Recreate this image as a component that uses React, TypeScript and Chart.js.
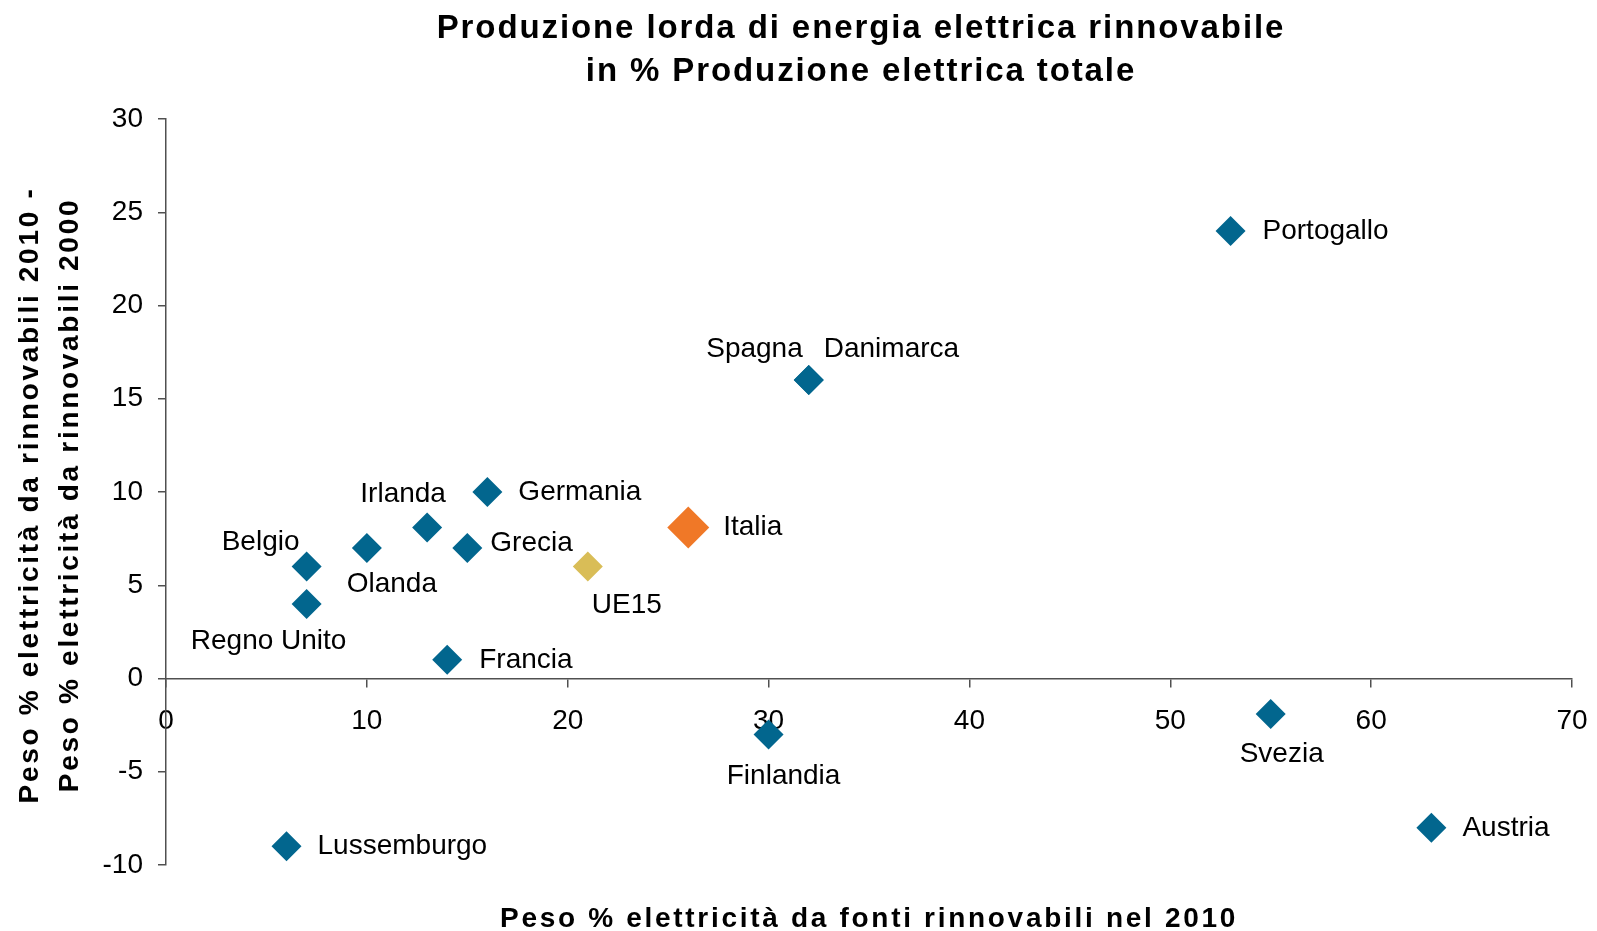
import { useEffect, useRef } from "react";
import { Chart, registerables } from "chart.js";

Chart.register(...registerables);

// ---- Data ----
const countries = [
  "Portogallo", "Spagna", "Danimarca", "Germania", "Irlanda", "Grecia", "Olanda", "Belgio",
  "Regno Unito", "Francia", "UE15", "Italia", "Finlandia", "Svezia", "Austria", "Lussemburgo",
];
const share2010 = [53, 32, 32, 16, 13, 15, 10, 7, 7, 14, 21, 26, 30, 55, 63, 6];
const change2000to2010 = [24, 16, 16, 10, 8.1, 7, 7, 6, 4, 1, 6, 8.1, -3, -1.9, -8, -9];

const xTickValues = [0, 10, 20, 30, 40, 50, 60, 70];
const yTickValues = [-10, -5, 0, 5, 10, 15, 20, 25, 30];

const titleLines = ["Produzione lorda di energia elettrica rinnovabile", "in % Produzione elettrica totale"];
const xAxisTitle = "Peso % elettricità da fonti rinnovabili nel 2010";
const yAxisTitleLines = [
  "Peso % elettricità da rinnovabili 2010 -",
  "Peso % elettricità da rinnovabili 2000",
];

// ---- Styles ----
const COLOR_COUNTRY = "#02668E";
const COLOR_ITALIA = "#F07827";
const COLOR_UE = "#D9BD57";
const AXIS_COLOR = "#505050";
const FONT = '"Liberation Sans", Arial, Helvetica, sans-serif';

// label placement relative to each point: [dx, dy, align]
const labelPlacement: [number, number, CanvasTextAlign][] = [
  [32, 0, "left"],     // Portogallo
  [-6, -31, "right"],  // Spagna
  [15, -31, "left"],   // Danimarca
  [31, 0, "left"],     // Germania
  [-24, -33, "center"],// Irlanda
  [23, -5, "left"],    // Grecia
  [25, 36, "center"],  // Olanda
  [-46, -24, "center"],// Belgio
  [-38, 37, "center"], // Regno Unito
  [32, 0, "left"],     // Francia
  [39, 39, "center"],  // UE15
  [35, 0, "left"],     // Italia
  [15, 42, "center"],  // Finlandia
  [11, 40, "center"],  // Svezia
  [31, 1, "left"],     // Austria
  [31, 0, "left"],     // Lussemburgo
];

const colorFor = (name: string) =>
  name === "Italia" ? COLOR_ITALIA : name === "UE15" ? COLOR_UE : COLOR_COUNTRY;
const radiusFor = (name: string) => (name === "Italia" ? 21 : 15);

const textPlugin = {
  id: "customTexts",
  afterDatasetsDraw(chart: any) {
    const ctx: CanvasRenderingContext2D = chart.ctx;
    const meta = chart.getDatasetMeta(0);
    ctx.save();
    ctx.fillStyle = "#000";
    ctx.font = `28px ${FONT}`;
    ctx.textBaseline = "middle";
    (ctx as any).letterSpacing = "0px";
    meta.data.forEach((pt: any, i: number) => {
      const [dx, dy, align] = labelPlacement[i];
      ctx.textAlign = align;
      ctx.fillText(countries[i], pt.x + dx, pt.y + dy);
    });
    ctx.restore();
  },
  afterDraw(chart: any) {
    const ctx: CanvasRenderingContext2D = chart.ctx;
    ctx.save();
    ctx.fillStyle = "#000";
    ctx.textBaseline = "alphabetic";
    ctx.textAlign = "center";
    // Title
    ctx.font = `bold 33px ${FONT}`;
    (ctx as any).letterSpacing = "1.9px";
    ctx.fillText(titleLines[0], 861, 38);
    ctx.fillText(titleLines[1], 861, 81);
    // X axis title
    ctx.font = `bold 28px ${FONT}`;
    (ctx as any).letterSpacing = "2.7px";
    ctx.fillText(xAxisTitle, 869, 927);
    // Y axis title
    const ys = [38, 78];
    yAxisTitleLines.forEach((line, i) => {
      ctx.save();
      ctx.translate(ys[i], 495);
      ctx.rotate(-Math.PI / 2);
      ctx.fillText(line, 0, 0);
      ctx.restore();
    });
    ctx.restore();
  },
};

export default function App() {
  const canvasRef = useRef<HTMLCanvasElement | null>(null);

  useEffect(() => {
    if (!canvasRef.current) return;
    const chart = new Chart(canvasRef.current, {
      type: "scatter",
      data: {
        datasets: [
          {
            data: countries.map((_, i) => ({ x: share2010[i], y: change2000to2010[i] })),
            pointStyle: "rectRot",
            pointRadius: countries.map(radiusFor),
            pointHoverRadius: countries.map(radiusFor),
            pointBackgroundColor: countries.map(colorFor),
            pointBorderWidth: 0,
            borderWidth: 0,
            clip: false,
          } as any,
        ],
      },
      options: {
        animation: false,
        responsive: false,
        events: [],
        layout: { padding: { left: 0, right: 25, top: 119, bottom: 66 } },
        plugins: {
          legend: { display: false },
          tooltip: { enabled: false },
          title: { display: false },
        },
        scales: {
          x: {
            type: "linear",
            position: { y: 0 } as any,
            min: 0,
            max: 70,
            afterBuildTicks: (scale: any) => {
              scale.ticks = xTickValues.map((v) => ({ value: v }));
            },
            afterFit: (scale: any) => {
              scale.paddingLeft = 0;
              scale.paddingRight = 0;
              scale.paddingTop = 0;
              scale.paddingBottom = 0;
            },
            ticks: {
              color: "#000",
              font: { family: FONT, size: 28 },
              padding: 18,
              maxRotation: 0,
              autoSkip: false,
            },
            grid: { drawOnChartArea: false, drawTicks: true, tickLength: 8, color: AXIS_COLOR, lineWidth: 1.5 },
            border: { display: true, color: AXIS_COLOR, width: 1.5 },
            title: { display: false },
          },
          y: {
            type: "linear",
            position: "left",
            min: -10,
            max: 30,
            afterBuildTicks: (scale: any) => {
              scale.ticks = yTickValues.map((v) => ({ value: v }));
            },
            afterFit: (scale: any) => {
              scale.width = 166;
              scale.paddingTop = 0;
              scale.paddingBottom = 0;
            },
            ticks: {
              color: "#000",
              font: { family: FONT, size: 28 },
              padding: 15,
              autoSkip: false,
            },
            grid: { drawOnChartArea: false, drawTicks: true, tickLength: 8, color: AXIS_COLOR, lineWidth: 1.5 },
            border: { display: true, color: AXIS_COLOR, width: 1.5 },
            title: { display: false },
          },
        },
      },
      plugins: [textPlugin],
    });
    return () => chart.destroy();
  }, []);

  return (
    <div style={{ position: "absolute", left: 0, top: 0, width: 1597, height: 931, background: "#fff" }}>
      <canvas ref={canvasRef} width={1597} height={931} style={{ display: "block" }} />
    </div>
  );
}
